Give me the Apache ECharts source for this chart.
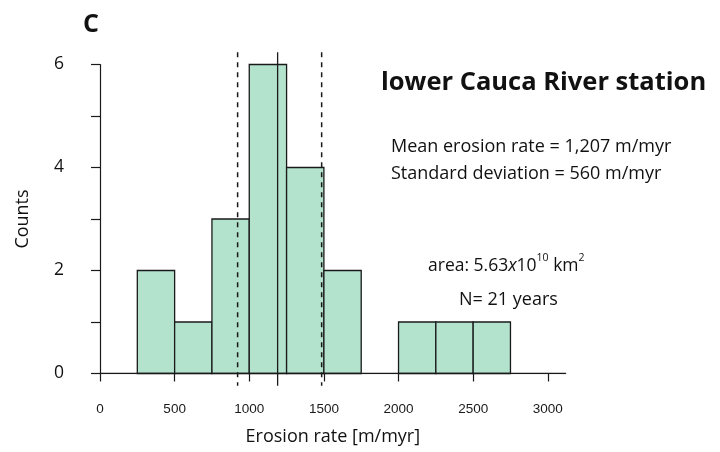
<!DOCTYPE html>
<html>
<head>
<meta charset="utf-8">
<script src="https://cdn.jsdelivr.net/npm/echarts@6/dist/echarts.min.js"></script>
<style>html,body{margin:0;padding:0;background:#fff}#c{width:720px;height:452px}</style>
</head>
<body>
<div id="c"></div>
<script>
// Histogram bins (m/myr) and counts
const binStarts = [250, 500, 750, 1000, 1250, 1500, 1750, 2000, 2250, 2500];
const binEnds   = [500, 750, 1000, 1250, 1500, 1750, 2000, 2250, 2500, 2750];
const counts    = [2, 1, 3, 6, 4, 2, 0, 1, 1, 1];
// Vertical reference lines (as drawn)
const meanLine = 1190;
const dashedLines = [922, 1485];
const lineTop = 6.24, lineBottom = -0.24;
// Axes ticks
const xTickValues = [0, 500, 1000, 1500, 2000, 2500, 3000];
const yLabelValues = [0, 2, 4, 6];
const xMax = 3120;

const FONT = '"Open Sans", "Noto Sans", sans-serif';
const ink = '#1a1a1a';

const histData = binStarts.map((s, i) => [s, binEnds[i], counts[i]]).filter(d => d[2] > 0);

const chart = echarts.init(document.getElementById('c'), null, {renderer: 'canvas'});
chart.setOption({
  animation: false,
  backgroundColor: '#fff',
  grid: {left: 100, top: 64.5, width: 465.7, height: 309},
  xAxis: {
    type: 'value', min: 0, max: xMax, interval: 500, offset: 12,
    axisLine: {show: true, lineStyle: {color: ink, width: 1.2}},
    axisTick: {show: true, length: 8, lineStyle: {color: ink, width: 1.2}, customValues: xTickValues},
    axisLabel: {customValues: xTickValues, margin: 17, fontSize: 13.5, color: ink,
      fontFamily: '"Liberation Sans", Arial, sans-serif', formatter: v => String(v)},
    splitLine: {show: false},
    name: 'Erosion rate [m/myr]', nameLocation: 'middle', nameGap: 42,
    nameTextStyle: {fontSize: 18, color: '#111', fontFamily: FONT}
  },
  yAxis: {
    type: 'value', min: 0, max: 6, interval: 1, offset: 18,
    axisLine: {show: true, lineStyle: {color: ink, width: 1.2}},
    axisTick: {show: true, length: 9, lineStyle: {color: ink, width: 1.2}},
    axisLabel: {customValues: yLabelValues, margin: 18, fontSize: 17.5, color: '#111', fontFamily: FONT,
      padding: [0, 0, 11, 0], formatter: v => String(v)},
    splitLine: {show: false},
    name: 'Counts', nameLocation: 'middle', nameGap: 50, nameRotate: 90,
    nameTextStyle: {fontSize: 18, color: '#111', fontFamily: FONT}
  },
  series: [
    {
      type: 'line', data: [[0, 0], [xMax, 0]], symbol: 'none', silent: true,
      lineStyle: {color: ink, width: 1.3}
    },
    {
      type: 'custom',
      data: histData,
      encode: {x: [0, 1], y: 2},
      renderItem: function (params, api) {
        const p0 = api.coord([api.value(0), 0]);
        const p1 = api.coord([api.value(1), api.value(2)]);
        return {
          type: 'rect',
          shape: {x: p0[0], y: p1[1], width: p1[0] - p0[0], height: p0[1] - p1[1]},
          style: {fill: '#b3e2cd', stroke: ink, lineWidth: 1.3}
        };
      }
    },
    {
      type: 'line', data: [[meanLine, lineTop], [meanLine, lineBottom]], symbol: 'none', clip: false,
      lineStyle: {color: ink, width: 1.3}
    },
    {
      type: 'line', data: [[dashedLines[0], lineTop], [dashedLines[0], lineBottom]], symbol: 'none', clip: false,
      lineStyle: {color: ink, width: 1.5, type: [5, 5]}
    },
    {
      type: 'line', data: [[dashedLines[1], lineTop], [dashedLines[1], lineBottom]], symbol: 'none', clip: false,
      lineStyle: {color: ink, width: 1.5, type: [5, 5]}
    }
  ],
  graphic: [
    {type: 'text', style: {text: 'C', x: 91, y: 25, font: 'bold 25px ' + FONT, fill: '#111', textAlign: 'center', textVerticalAlign: 'middle'}},
    {type: 'text', style: {text: 'lower Cauca River station', x: 381, y: 83, font: 'bold 25.5px ' + FONT, fill: '#111', textAlign: 'left', textVerticalAlign: 'middle'}},
    {type: 'text', style: {text: 'Mean erosion rate = 1,207 m/myr', x: 391, y: 147, font: '18px ' + FONT, fill: '#111', textAlign: 'left', textVerticalAlign: 'middle'}},
    {type: 'text', style: {text: 'Standard deviation = 560 m/myr', x: 391, y: 174, font: '18px ' + FONT, fill: '#111', textAlign: 'left', textVerticalAlign: 'middle'}},
    {type: 'text', style: {
      text: '{n|area: 5.63}{i|x}{n|10}{s|10}{n| km}{s|2}', x: 428, y: 264, textAlign: 'left', textVerticalAlign: 'middle',
      rich: {
        n: {fontSize: 17.5, fontFamily: FONT, fill: '#111', lineHeight: 22, verticalAlign: 'bottom'},
        i: {fontSize: 17.5, fontFamily: FONT, fontStyle: 'italic', fill: '#111', lineHeight: 22, verticalAlign: 'bottom'},
        s: {fontSize: 10.5, fontFamily: FONT, fill: '#111', lineHeight: 16, verticalAlign: 'top'}
      }
    }},
    {type: 'text', style: {text: 'N= 21 years', x: 459, y: 300, font: '18px ' + FONT, fill: '#111', textAlign: 'left', textVerticalAlign: 'middle'}}
  ]
});
</script>
</body>
</html>
